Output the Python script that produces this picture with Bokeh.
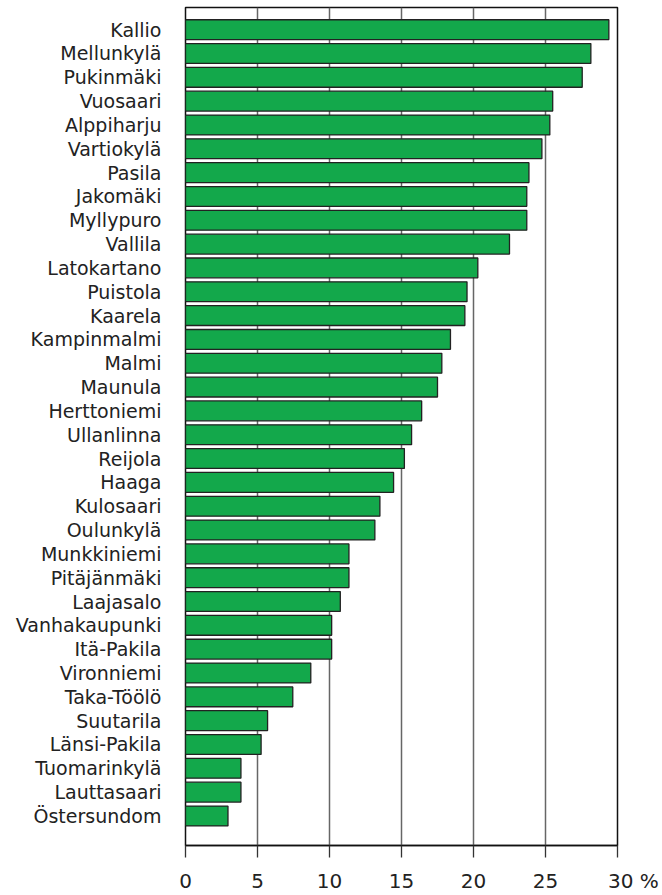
from bokeh.plotting import figure
from bokeh.models import ColumnDataSource, FixedTicker, Range1d
from bokeh.embed import file_html
from bokeh.resources import INLINE

districts = ["Kallio", "Mellunkylä", "Pukinmäki", "Vuosaari", "Alppiharju", "Vartiokylä",
             "Pasila", "Jakomäki", "Myllypuro", "Vallila", "Latokartano", "Puistola",
             "Kaarela", "Kampinmalmi", "Malmi", "Maunula", "Herttoniemi", "Ullanlinna",
             "Reijola", "Haaga", "Kulosaari", "Oulunkylä", "Munkkiniemi", "Pitäjänmäki",
             "Laajasalo", "Vanhakaupunki", "Itä-Pakila", "Vironniemi", "Taka-Töölö",
             "Suutarila", "Länsi-Pakila", "Tuomarinkylä", "Lauttasaari", "Östersundom"]
values = [29.4, 28.15, 27.55, 25.5, 25.3, 24.75, 23.85, 23.7, 23.7, 22.5, 20.3, 19.55,
          19.4, 18.4, 17.8, 17.5, 16.4, 15.7, 15.2, 14.45, 13.5, 13.15, 11.35, 11.35,
          10.75, 10.15, 10.15, 8.7, 7.45, 5.7, 5.25, 3.85, 3.85, 2.95]
x_ticks = [0, 5, 10, 15, 20, 25, 30]
x_tick_labels = ["0", "5", "10", "15", "20", "25", "30 %"]

n = len(districts)
ypos = [-i for i in range(n)]
src = ColumnDataSource(dict(y=ypos, v=values, name=districts))

y_start = -(n - 1) - 1.24
p = figure(width=662, height=895, output_backend="svg", toolbar_location=None,
           x_range=Range1d(0, 30), y_range=Range1d(y_start, 0.93),
           min_border_left=185, min_border_right=45, min_border_top=7, min_border_bottom=44)

p.hbar(y="y", right="v", left=0, height=0.833, source=src,
       fill_color="#13A84B", line_color="#222222", line_width=1.3)

p.outline_line_color = "#111111"
p.outline_line_width = 1.5
p.outline_line_alpha = 1.0

p.ygrid.grid_line_color = None
p.xgrid.ticker = FixedTicker(ticks=x_ticks)
p.xgrid.grid_line_color = "#666666"
p.xgrid.grid_line_width = 1.5

# the unit label "30 %" sits with its number on the tick and the "%" trailing to the right
nbsp = "\u00a0" * 5
labels_shown = [t if t != x_tick_labels[-1] else nbsp + t for t in x_tick_labels]

xa = p.xaxis[0]
xa.ticker = FixedTicker(ticks=x_ticks)
xa.major_label_overrides = {t: l for t, l in zip(x_ticks, labels_shown)}
xa.axis_line_color = "#111111"
xa.axis_line_width = 1.5
xa.major_tick_in = 0
xa.major_tick_out = 12
xa.major_tick_line_color = "#333333"
xa.major_tick_line_width = 1.3
xa.minor_tick_line_color = None
xa.major_label_text_font = "DejaVu Sans"
xa.major_label_text_font_size = "20px"
xa.major_label_text_color = "#222222"
xa.major_label_standoff = 11

ya = p.yaxis[0]
ya.ticker = FixedTicker(ticks=ypos)
ya.major_label_overrides = {t: l for t, l in zip(ypos, districts)}
ya.axis_line_color = None
ya.major_tick_line_color = None
ya.minor_tick_line_color = None
ya.major_label_text_font = "DejaVu Sans"
ya.major_label_text_font_size = "19px"
ya.major_label_text_color = "#222222"
ya.major_label_standoff = 18

open("out.html", "w").write(file_html(p, INLINE))
